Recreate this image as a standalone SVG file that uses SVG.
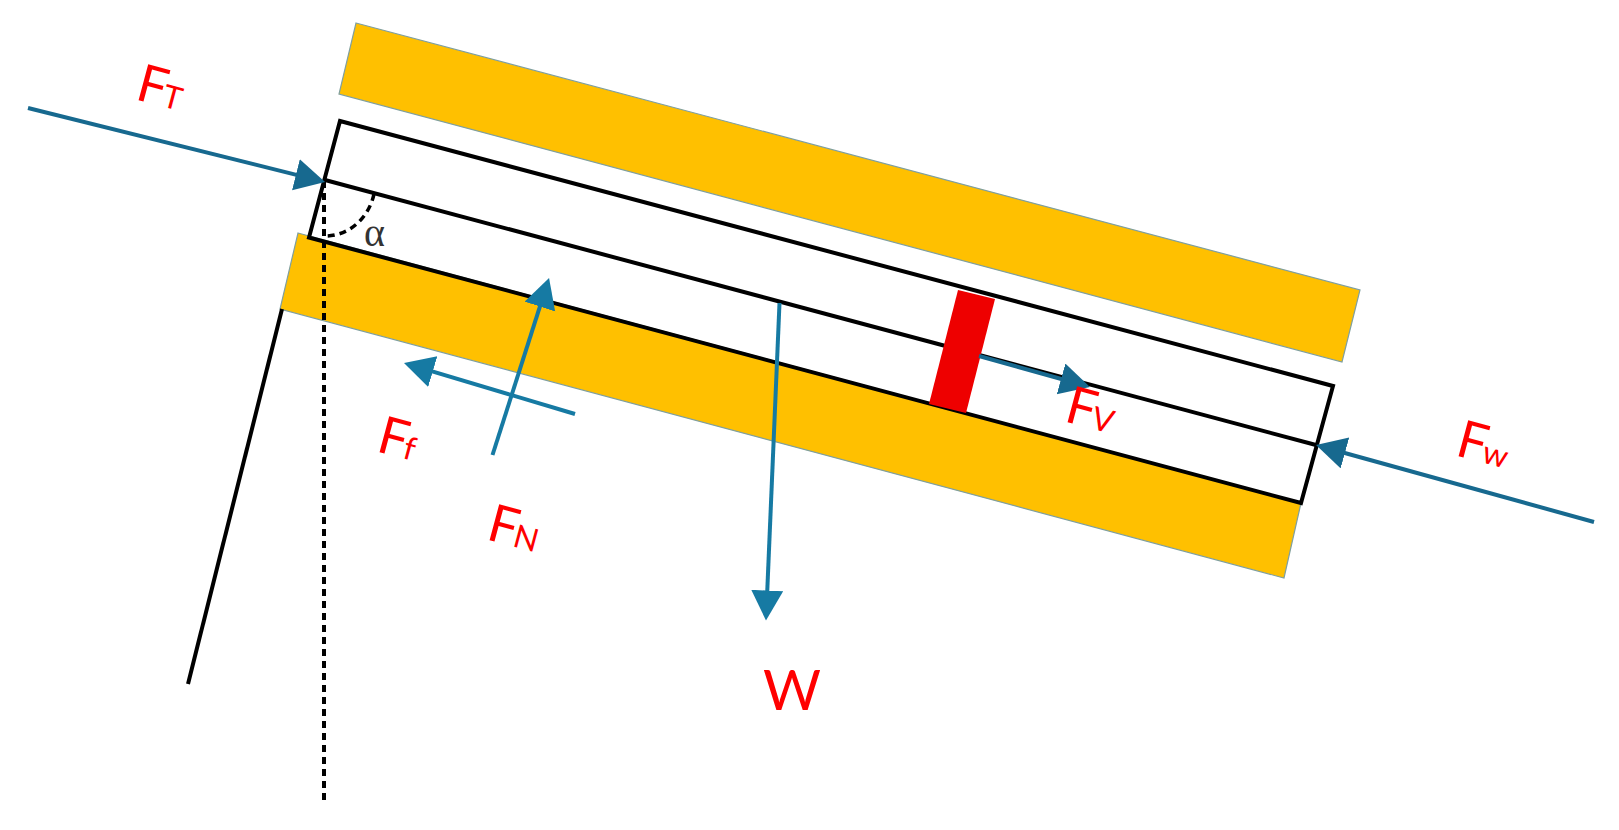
<svg xmlns="http://www.w3.org/2000/svg" width="1619" height="830" viewBox="0 0 1619 830">
<style>
.band{fill:#FFC000;stroke:#7f9f9f;stroke-width:1.2}
.blk{fill:none;stroke:#000;stroke-width:4;stroke-linejoin:miter}
.arr{fill:none;stroke:#167AA3;stroke-width:4}
.arrd{fill:none;stroke:#17698F;stroke-width:4}
.lbl{font-family:Lato,"Open Sans","Liberation Sans",sans-serif;fill:#FF0000;font-size:52px}
.sub{font-size:32px}
</style>
<defs>
<marker id="a" markerUnits="userSpaceOnUse" markerWidth="36" markerHeight="36" refX="18" refY="16" orient="auto"><path d="M0 0L30 16L0 32Z" fill="#167AA3"/></marker>
<marker id="d" markerUnits="userSpaceOnUse" markerWidth="36" markerHeight="36" refX="18" refY="16" orient="auto"><path d="M0 0L30 16L0 32Z" fill="#17698F"/></marker>
</defs>
<rect width="1619" height="830" fill="#fff"/>
<g id="upper-band"><polygon class="band" points="356,23 1360,290 1342,362 339,94"/></g>
<g id="lower-band"><polygon class="band" points="298,233 1301,503 1284,578 280,309"/></g>
<g id="block">
<polygon class="blk" points="340,121 1333,386 1301,503 309,237.5"/>
<line class="blk" x1="325" y1="180" x2="1316" y2="445"/>
<line class="blk" x1="282" y1="309" x2="188" y2="684"/>
</g>
<g id="piston"><polygon points="958,290 995,299 966,413 929,404" fill="#EE0000"/></g>
<g id="angle">
<line x1="324" y1="181" x2="324" y2="803" stroke="#000" stroke-width="4" stroke-dasharray="7 5"/>
<path d="M374 194A50 55 0 0 1 324 236" fill="none" stroke="#000" stroke-width="3.500" stroke-dasharray="7 5"/>
<text id="alpha" x="364" y="246" font-family="'Liberation Serif',serif" font-size="40" fill="#333">α</text>
</g>
<g id="connectors">
<line class="arrd" x1="28" y1="108" x2="313.400" y2="179.100" marker-end="url(#d)"/>
<line class="arr" x1="575" y1="414" x2="415.500" y2="366.400" marker-end="url(#a)"/>
<line class="arr" x1="492.500" y1="455" x2="545.400" y2="289.400" marker-end="url(#a)"/>
<line class="arr" x1="779.500" y1="303" x2="766.500" y2="608.500" marker-end="url(#a)"/>
<line class="arrd" x1="979" y1="356" x2="1078.400" y2="383.800" marker-end="url(#d)"/>
<line class="arrd" x1="1594" y1="522" x2="1327.600" y2="448.200" marker-end="url(#d)"/>
</g>
<g id="labels">
<text class="lbl" transform="translate(134,99) rotate(15)">F<tspan class="sub" dx="-2">T</tspan></text>
<text class="lbl" transform="translate(375,451) rotate(15)">F<tspan class="sub" dx="-2">f</tspan></text>
<text class="lbl" transform="translate(485,539) rotate(15)">F<tspan class="sub" dx="-2">N</tspan></text>
<text class="lbl" transform="translate(1063,421) rotate(15)">F<tspan class="sub" dx="-2">V</tspan></text>
<text class="lbl" transform="translate(1454,455) rotate(15)">F<tspan class="sub" dx="-2">w</tspan></text>
<text class="lbl" x="763" y="710" style="font-size:56px">W</text>
</g>
</svg>
